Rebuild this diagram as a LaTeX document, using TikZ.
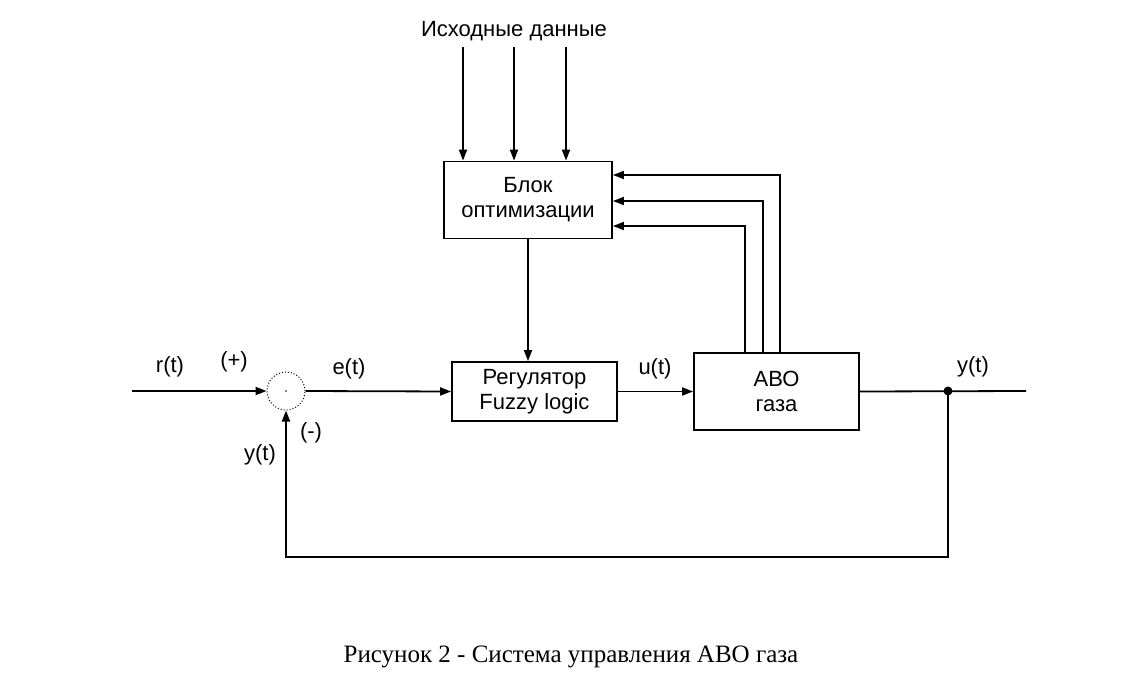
\documentclass[tikz,border=0pt]{standalone}
\usepackage{fontspec}
\setmainfont{Liberation Sans}
\newfontfamily\capfont{Liberation Serif}
\usetikzlibrary{positioning,calc,arrows.meta}

\tikzset{
  block/.style={draw, rectangle, align=center, inner sep=0pt},
  summ/.style={draw, circle, dotted, line width=1pt, minimum size=38pt, inner sep=0pt},
  lbl/.style={inner sep=0pt}
}

\begin{document}
\begin{tikzpicture}[x=1pt, y=-1pt, line width=1.8pt,
    >={Triangle[length=11pt,width=8pt]},
    font=\fontsize{22}{25}\selectfont]
    \useasboundingbox (0,0) rectangle (1145,688);

    % blocks
    \node [block, minimum width=168pt, minimum height=77pt] (opt) at (528,200) {Блок\\оптимизации};
    \node [block, minimum width=165pt, minimum height=59pt] (reg) at (534.5,391.5) {Регулятор\\Fuzzy logic};
    \node [block, minimum width=165pt, minimum height=77pt] (abo) at (776.5,391.5) {АВО\\газа};
    \node [summ] (sum) at (286,391) {};
    \fill (sum.center) circle (0.8pt);

    \coordinate (in) at (132,391);
    \coordinate (out) at (1026,391);
    \coordinate (tap) at (948,391);
    \coordinate (bot) at (948,557);

    % main loop
    \draw [->] (in) -- (sum.west);
    \draw [->] (sum.east) -- (reg.west);
    \draw [->] (reg.east) -- (abo.west);
    \draw (abo.east) -- (out);
    \fill (tap) circle (4.5pt);
    \draw [->] (tap) -- (bot) -| (sum.south);

    % optimisation block
    \node [lbl] (src) at (514,31) {Исходные данные};
    \foreach \x in {463,514,566}
        \draw [->] (\x,47) -- (opt.north -| \x,0);
    \draw [->] (opt.south) -- (opt.south |- reg.north);
    \foreach \x/\y in {745/226, 763/201, 780/175}
        \draw [->] (abo.north -| \x,0) |- (opt.east |- 0,\y);

    % labels
    \node [lbl] at (170,367) {r(t)};
    \node [lbl] at (234,362) {(+)};
    \node [lbl] at (349,369) {e(t)};
    \node [lbl] at (655,369) {u(t)};
    \node [lbl] at (973,367) {y(t)};
    \node [lbl] at (311,433) {(-)};
    \node [lbl] at (260,455) {y(t)};

    \node [lbl, font=\capfont\fontsize{25}{28}\selectfont] (cap) at (571,657) {Рисунок 2 - Система управления АВО газа};
\end{tikzpicture}
\end{document}
